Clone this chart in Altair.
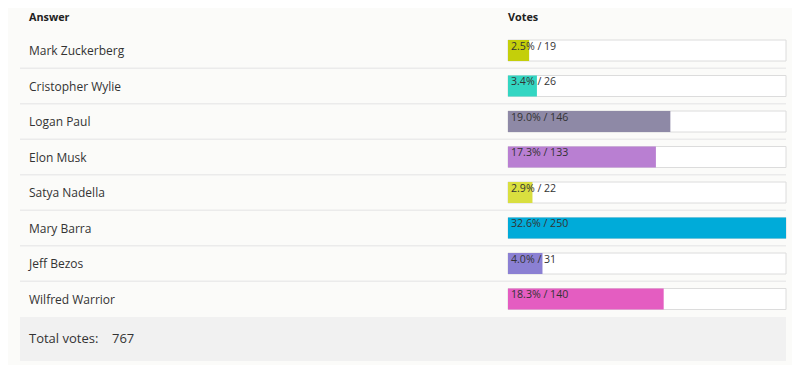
import altair as alt
import pandas as pd

# ---- data ----
answers = ["Mark Zuckerberg", "Cristopher Wylie", "Logan Paul", "Elon Musk",
           "Satya Nadella", "Mary Barra", "Jeff Bezos", "Wilfred Warrior"]
votes = [19, 26, 146, 133, 22, 250, 31, 140]
colors = ["#c4cf0a", "#33d6c2", "#8e89a6", "#b97fd2",
          "#d9df3f", "#00abd9", "#8b80d3", "#e45dc1"]
header_answer = "Answer"
header_votes = "Votes"
total_label = "Total votes:"

total = sum(votes)
df = pd.DataFrame({
    "Answer": answers,
    "Votes": votes,
    "idx": list(range(len(answers))),
})
df["label"] = [f"{v / total * 100:.1f}% / {v}" for v in votes]

FONT = "Open Sans"
TXT = "#333333"

xscale = alt.Scale(domain=[0, max(votes)], range=[500, 778], nice=False, zero=True)
yscale = alt.Scale(domain=answers, range=[24.75, 308.75], paddingInner=0, paddingOuter=0)

base = alt.Chart(df)

Y = alt.Y("Answer:N", scale=yscale, axis=None, sort=answers)

footer_bg = alt.Chart(pd.DataFrame({"k": [0]})).mark_rect(color="#f1f1f1").encode(
    x=alt.value(12), x2=alt.value(778), y=alt.value(309), y2=alt.value(353)
)

separators = base.transform_filter("datum.idx > 0").mark_rule(
    color="#ebebeb", strokeWidth=1.5
).encode(
    y=alt.Y("Answer:N", scale=yscale, axis=None, sort=answers, bandPosition=0),
    x=alt.value(12), x2=alt.value(778),
)

hdr_answer = alt.Chart(pd.DataFrame({"t": [header_answer]})).mark_text(
    font=FONT, fontSize=10.8, fontWeight="bold", color="#222222", align="left", baseline="middle"
).encode(x=alt.value(21), y=alt.value(10), text="t:N")

hdr_votes = alt.Chart(pd.DataFrame({"t": [header_votes]})).mark_text(
    font=FONT, fontSize=10.8, fontWeight="bold", color="#222222", align="left", baseline="middle"
).encode(x=alt.X(datum=0, scale=xscale, axis=None), y=alt.value(10), text="t:N")

row_labels = base.mark_text(
    font=FONT, fontSize=12, color=TXT, align="left", baseline="middle", dy=0.5
).encode(x=alt.value(21), y=Y, text="Answer:N")

track = base.transform_joinaggregate(maxv="max(Votes)").transform_calculate(zero="0").mark_bar(
    size=21, fill="#ffffff", stroke="#dcdcdc", strokeWidth=1
).encode(
    x=alt.X("zero:Q", scale=xscale, axis=None),
    x2="maxv:Q",
    y=Y,
)

bars = base.mark_bar(size=21).encode(
    x=alt.X("Votes:Q", scale=xscale, axis=None, stack=None),
    y=Y,
    color=alt.Color("Answer:N", scale=alt.Scale(domain=answers, range=colors), legend=None),
)

bar_labels = base.mark_text(
    font=FONT, fontSize=10.6, color=TXT, align="left", baseline="middle", dx=3, dy=-4
).encode(
    x=alt.X(datum=0, scale=xscale, axis=None),
    y=Y,
    text="label:N",
)

footer_text = alt.Chart(pd.DataFrame({"t": [total_label]})).mark_text(
    font=FONT, fontSize=13, color=TXT, align="left", baseline="middle"
).encode(x=alt.value(21), y=alt.value(331), text="t:N")

footer_total = base.transform_aggregate(total="sum(Votes)").mark_text(
    font=FONT, fontSize=13, color=TXT, align="left", baseline="middle"
).encode(x=alt.value(104), y=alt.value(331), text="total:Q")

chart = alt.layer(
    footer_bg, separators, hdr_answer, hdr_votes, row_labels,
    track, bars, bar_labels, footer_text, footer_total
).properties(
    width=784, height=357,
    autosize=alt.AutoSizeParams(type="fit", contains="padding"),
    padding=0,
    background="#fbfbf9",
).configure_view(stroke=None)

chart.save("out.html", embed_options={"renderer": "svg", "actions": False})
